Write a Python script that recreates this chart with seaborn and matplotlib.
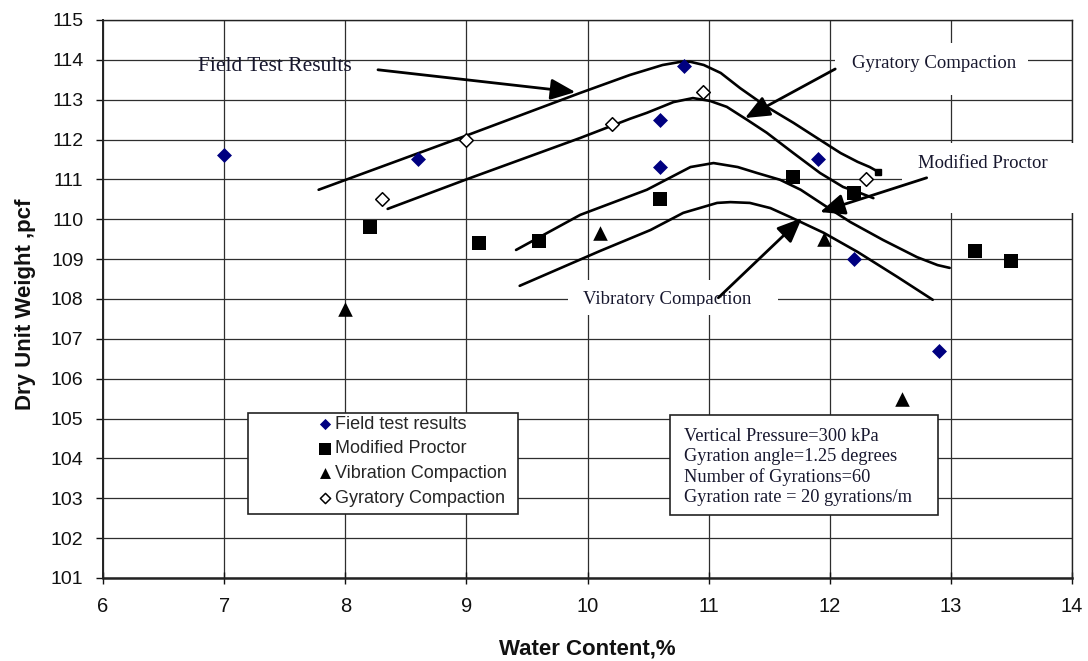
import matplotlib
matplotlib.use("Agg")
import matplotlib.pyplot as plt
from matplotlib.patches import Rectangle
from matplotlib.transforms import Bbox, TransformedBbox
from matplotlib import font_manager as fm
import seaborn as sns

# ---- measured points -------------------------------------------------------
field_x = [7.0, 8.6, 10.6, 10.6, 10.8, 11.9, 12.2, 12.9]
field_y = [111.6, 111.5, 112.5, 111.3, 113.85, 111.5, 109.0, 106.7]

proctor_x = [8.2, 9.1, 9.6, 10.6, 11.7, 12.2, 13.2, 13.5]
proctor_y = [109.8, 109.4, 109.45, 110.5, 111.05, 110.65, 109.2, 108.95]

vib_x = [8.0, 10.1, 11.95, 12.6]
vib_y = [107.75, 109.65, 109.5, 105.5]

gyr_x = [8.3, 9.0, 10.2, 10.95, 12.3]
gyr_y = [110.5, 112.0, 112.4, 113.2, 111.0]

# ---- hand-fitted compaction curves -----------------------------------------
field_curve_x = [7.78, 9.0, 9.94, 10.35, 10.62, 10.77, 10.85, 10.96, 11.1, 11.26,
                 11.48, 11.7, 11.92, 12.09, 12.23, 12.33, 12.4]
field_curve_y = [110.74, 112.1, 113.17, 113.62, 113.87, 113.95, 113.95, 113.87,
                 113.67, 113.29, 112.82, 112.42, 111.99, 111.66, 111.44, 111.31, 111.19]

gyr_curve_x = [8.35, 9.0, 9.94, 10.35, 10.49, 10.71, 10.87, 11.01, 11.15, 11.32,
               11.48, 11.7, 11.92, 12.11, 12.25, 12.36]
gyr_curve_y = [110.26, 111.0, 112.04, 112.52, 112.67, 112.94, 113.04, 112.97,
               112.82, 112.49, 112.17, 111.66, 111.16, 110.81, 110.66, 110.53]

proctor_curve_x = [9.41, 9.94, 10.49, 10.85, 11.04, 11.24, 11.4, 11.59, 11.76,
                   11.95, 12.17, 12.44, 12.72, 12.89, 12.99]
proctor_curve_y = [109.23, 110.11, 110.74, 111.31, 111.41, 111.31, 111.16, 110.99,
                   110.74, 110.36, 109.93, 109.48, 109.05, 108.85, 108.78]

vib_curve_x = [9.44, 10.1, 10.52, 10.79, 11.07, 11.18, 11.34, 11.51, 11.67,
               11.95, 12.23, 12.56, 12.85]
vib_curve_y = [108.33, 109.2, 109.73, 110.16, 110.41, 110.43, 110.41, 110.28,
               110.06, 109.66, 109.18, 108.55, 107.98]

x_ticks = [6, 7, 8, 9, 10, 11, 12, 13, 14]
y_ticks = [101, 102, 103, 104, 105, 106, 107, 108, 109, 110, 111, 112, 113, 114, 115]

legend_labels = ["Field test results", "Modified Proctor",
                 "Vibration Compaction", "Gyratory Compaction"]
test_conditions = ["Vertical Pressure=300 kPa",
                   "Gyration angle=1.25 degrees",
                   "Number of Gyrations=60",
                   "Gyration rate = 20 gyrations/m"]

# ---- style -----------------------------------------------------------------
sns.set_theme(style="white")
plt.rcParams["font.family"] = ["Liberation Sans", "DejaVu Sans"]
SERIF = ["Liberation Serif", "DejaVu Serif"]
NOTE_COLOR = "#17172e"

try:
    fm.findfont(fm.FontProperties(family="Liberation Sans Narrow"),
                fallback_to_default=False)
    LABEL_FAMILY, LABEL_SIZE = ["Liberation Sans Narrow", "Liberation Sans"], 18.5
except Exception:
    LABEL_FAMILY, LABEL_SIZE = ["Liberation Sans"], 16

fig = plt.figure(figsize=(10.88, 6.61), dpi=100)
ax = fig.add_axes([0.0947, 0.1256, 0.8906, 0.8442])

# ---- curves ----------------------------------------------------------------
for cx, cy in [(field_curve_x, field_curve_y), (gyr_curve_x, gyr_curve_y),
               (proctor_curve_x, proctor_curve_y), (vib_curve_x, vib_curve_y)]:
    sns.lineplot(x=cx, y=cy, ax=ax, color="black", lw=1.9, sort=False,
                 estimator=None, zorder=2)
ax.plot(field_curve_x[-1:], field_curve_y[-1:], "s", color="black", ms=4.5, zorder=2)

# ---- measured points -------------------------------------------------------
sns.scatterplot(x=field_x, y=field_y, ax=ax, marker="D", s=58, color="#000080",
                edgecolor="#000080", linewidth=0, label=legend_labels[0], zorder=4)
sns.scatterplot(x=proctor_x, y=proctor_y, ax=ax, marker="s", s=112, color="black",
                edgecolor="black", linewidth=0, label=legend_labels[1], zorder=4)
sns.scatterplot(x=vib_x, y=vib_y, ax=ax, marker="^", s=110, color="black",
                edgecolor="black", linewidth=0, label=legend_labels[2], zorder=4)
sns.scatterplot(x=gyr_x, y=gyr_y, ax=ax, marker="D", s=48, color="white",
                edgecolor="black", linewidth=1.1, label=legend_labels[3], zorder=4)

# ---- axes ------------------------------------------------------------------
ax.set_xlim(6, 14)
ax.set_ylim(101, 115)
ax.set_xticks(x_ticks)
ax.set_yticks(y_ticks)
ax.grid(True, color="#2e2e2e", lw=0.9)
ax.set_axisbelow(True)
for side in ["top", "right", "left", "bottom"]:
    ax.spines[side].set_color("#222222")
    ax.spines[side].set_linewidth(1.0)
ax.spines["bottom"].set_linewidth(1.8)
ax.spines["left"].set_linewidth(1.4)

ax.tick_params(axis="x", bottom=True, direction="inout", length=8, width=1,
               pad=10, labelsize=14.5, colors="#111111")
ax.tick_params(axis="y", left=True, direction="out", length=5, width=1,
               pad=9, labelsize=14, colors="#111111")

ax.set_xlabel("Water Content,%", fontsize=LABEL_SIZE, fontweight="bold",
              family=LABEL_FAMILY, color="#111111")
ax.set_ylabel("Dry Unit Weight ,pcf", fontsize=LABEL_SIZE, fontweight="bold",
              family=LABEL_FAMILY, color="#111111")
ax.xaxis.set_label_coords(0.5, -0.108)
ax.yaxis.set_label_coords(-0.069, 0.49)

# ---- annotations -----------------------------------------------------------
arrow_style = dict(arrowstyle="-|>,head_length=0.75,head_width=0.32",
                   mutation_scale=20, lw=2.0, color="black",
                   shrinkA=0, shrinkB=0)

ax.text(6.785, 113.82, "Field Test Results", family=SERIF, fontsize=15.5,
        va="center", ha="left", color=NOTE_COLOR, zorder=3)
ax.annotate("", xy=(9.9, 113.19), xytext=(8.27, 113.75),
            arrowprops=arrow_style, zorder=5)

ax.add_patch(Rectangle((12.045, 113.12), 1.595, 1.3, fc="white", ec="none", zorder=1.5))
ax.text(12.18, 113.9, "Gyratory Compaction", family=SERIF, fontsize=13.5,
        va="center", ha="left", color=NOTE_COLOR, zorder=3)
ax.annotate("", xy=(11.30, 112.54), xytext=(12.045, 113.77),
            arrowprops=arrow_style, zorder=5)

ax.add_patch(Rectangle((12.6, 110.16), 1.43, 1.75, fc="white", ec="none",
                       zorder=2.6, clip_on=False))
ax.text(12.73, 111.41, "Modified Proctor", family=SERIF, fontsize=13.5,
        va="center", ha="left", color=NOTE_COLOR, zorder=3)
ax.annotate("", xy=(11.92, 110.18), xytext=(12.80, 111.04),
            arrowprops=arrow_style, zorder=5)

ax.add_patch(Rectangle((9.84, 107.6), 1.734, 0.88, fc="white", ec="none", zorder=1.5))
vib_label = ax.text(9.964, 107.98, "Vibratory Compaction", family=SERIF,
                    fontsize=13.5, va="center", ha="left", color=NOTE_COLOR, zorder=3)
vib_label.set_clip_on(True)
vib_label.set_clip_box(TransformedBbox(Bbox([[9.84, 107.83], [11.574, 108.48]]),
                                       ax.transData))
ax.annotate("", xy=(11.77, 110.03), xytext=(11.08, 108.03),
            arrowprops=arrow_style, zorder=5)

# ---- test conditions box ---------------------------------------------------
ax.add_patch(Rectangle((10.68, 102.58), 2.21, 2.51, fc="white", ec="#222222",
                       lw=1.2, zorder=3))
ax.text(10.8, 104.77, "\n".join(test_conditions), family=SERIF, fontsize=13.2,
        va="top", ha="left", linespacing=1.24, color=NOTE_COLOR, zorder=4)

# ---- legend ----------------------------------------------------------------
ax.add_patch(Rectangle((7.2, 102.6), 2.23, 2.54, fc="white", ec="#222222",
                       lw=1.2, zorder=3))
leg = ax.legend(loc="upper left", bbox_to_anchor=(7.79, 105.07),
                bbox_transform=ax.transData, frameon=False, fontsize=13,
                handlelength=0.6, handletextpad=0.25, labelspacing=0.42,
                borderpad=0, borderaxespad=0, markerscale=0.75)
leg.set_zorder(6)

fig.savefig("out.png", dpi=100)
